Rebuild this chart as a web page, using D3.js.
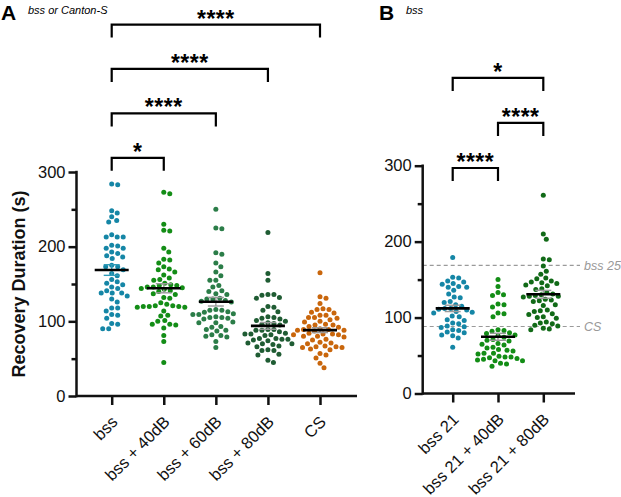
<!DOCTYPE html>
<html><head><meta charset="utf-8">
<script src="https://cdn.jsdelivr.net/npm/d3@7"></script>
<style>
body{margin:0;background:#fff}
svg{font-family:"Liberation Sans",Arial,sans-serif}
</style>
</head><body>
<svg id="c" width="621" height="497"></svg>
<script>
// ---------------- DATA ----------------
const catsA = ["bss", "bss + 40dB", "bss + 60dB", "bss + 80dB", "CS"];
const valsA_bss = [213,186,173,164,156,149,141,134,109,283,245,233,213,201,191,173,138,126,114,104,96,90,284,248,240,235,216,198,188,151,144,138,130,118,108,97,90,213,202,198,193,184,175,169,161,153,146,138,118];
const valsA_40 = [273,271,230,222,221,198,193,183,182,178,173,170,169,166,162,158,156,155,151,149,148,148,146,146,145,144,143,141,140,137,136,132,131,125,123,121,121,120,120,120,119,119,114,108,107,101,100,96,96,95,91,81,73,45];
const valsA_60 = [250,225,224,192,190,178,173,166,161,155,155,148,146,141,140,137,136,131,130,130,128,127,126,116,115,115,113,112,110,109,109,106,105,105,104,103,99,98,98,93,92,89,88,87,82,81,80,79,73,65];
const valsA_80 = [219,164,155,136,136,135,132,131,120,119,115,113,106,105,104,103,101,100,98,97,96,95,89,89,88,88,86,84,83,83,82,81,77,77,76,76,75,74,71,70,70,69,67,66,62,61,61,56,55,48,45];
const valsA_CS = [165,133,131,124,117,116,116,112,111,108,108,105,105,104,102,100,99,96,95,95,93,92,90,89,89,88,88,87,84,83,83,82,82,80,80,79,76,75,72,71,70,67,66,66,65,65,63,62,57,55,51,44,38];

const catsB = ["bss 21", "bss 21 + 40dB", "bss 21 + 80dB"];
const valsB_21 = [179,153,152,148,147,145,144,141,140,140,136,131,127,126,121,120,117,115,112,112,111,110,108,107,106,102,101,97,96,93,92,89,88,87,84,83,81,80,77,76,73,61];
const valsB_40 = [150,141,133,130,129,118,117,114,106,105,101,84,83,82,80,79,77,76,74,71,70,69,66,65,64,61,60,58,57,56,53,53,52,49,48,48,47,46,45,44,43,43,40,39,36];
const valsB_80 = [261,210,203,177,176,168,161,157,152,151,148,147,146,145,143,142,138,137,133,131,130,129,128,128,127,124,123,122,121,117,116,110,109,108,105,104,101,100,99,94,93,92,90,89,86,85,84];

const yTicks = [0, 100, 200, 300];
const yMinorTicks = [50, 150, 250];
// comparisons: [groupIndex1, groupIndex2, significance]
const compA = [[0,1,"*"],[0,2,"****"],[0,3,"****"],[0,4,"****"]];
const compB = [[0,1,"****"],[1,2,"****"],[0,2,"*"]];
// reference lines in panel B: means of panel A groups (index into A), with labels
const refB = [[0,"bss 25"],[4,"CS"]];
const yLabel = "Recovery Duration (s)";
const titleA = ["A", "bss or Canton-S"];
const titleB = ["B", "bss"];

// ---------------- STYLE ----------------
const colA = ["#1586a6","#138d16","#2b7d48","#1f5c33","#c9660c"];
const errA = ["#2f9bb8","#9a9a9a","#9a9a9a","#9a9a9a","#9a9a9a"];
const colB = ["#1586a6","#138d16","#116a17"];
const errB = ["#9a9a9a","#9a9a9a","#9a9a9a"];
const R = 2.5;

const svg = d3.select("#c");
const groupsA = [valsA_bss, valsA_40, valsA_60, valsA_80, valsA_CS];
const groupsB = [valsB_21, valsB_40, valsB_80];

function swarm(vals, y, r) {
  const pts = vals.map(v => ({v, py: y(v)})).sort((a,b) => a.py - b.py);
  const placed = [];
  const d = 2*r + 0.9;
  pts.forEach(p => {
    for (let k = 0; k < 400; k++) {
      const off = (k % 2 ? 1 : -1) * Math.ceil(k/2) * 0.5;
      let ok = true;
      for (const q of placed) {
        const dy = q.py - p.py;
        if (Math.abs(dy) >= d) continue;
        const dx = q.off - off;
        if (dx*dx + dy*dy < d*d) { ok = false; break; }
      }
      if (ok) { p.off = off; break; }
    }
    placed.push(p);
  });
  return placed;
}

function panel(cfg) {
  const g = svg.append("g");
  const y = d3.scaleLinear().domain([0,300]).range([cfg.y0, cfg.y300]);
  const x = d3.scalePoint().domain(cfg.cats).range(cfg.xr);
  const axW = 2.5;

  // reference lines
  if (cfg.refs) {
    cfg.refs.forEach(([v, lab]) => {
      g.append("line").attr("x1", cfg.axX).attr("x2", cfg.axEnd + 5)
        .attr("y1", y(v)).attr("y2", y(v))
        .attr("stroke", "#9a9a9a").attr("stroke-width", 1.1).attr("stroke-dasharray", "4,3");
      g.append("text").attr("x", cfg.axEnd + 9).attr("y", y(v)).attr("dy", "0.35em")
        .attr("font-size", 12.5).attr("font-style", "italic").attr("fill", "#999").text(lab);
    });
  }

  // dots
  cfg.groups.forEach((vals, i) => {
    const cx = x(cfg.cats[i]);
    const pts = swarm(vals, y, R);
    g.append("g").selectAll("circle").data(pts).join("circle")
      .attr("cx", p => cx + p.off).attr("cy", p => p.py).attr("r", R)
      .attr("fill", cfg.cols[i]);
    const m = d3.mean(vals);
    const sem = d3.deviation(vals) / Math.sqrt(vals.length);
    const eg = g.append("g").attr("stroke", cfg.errs[i]).attr("stroke-width", 1.4);
    eg.append("line").attr("x1", cx).attr("x2", cx).attr("y1", y(m - sem)).attr("y2", y(m + sem));
    [m - sem, m + sem].forEach(v => eg.append("line").attr("x1", cx - 8).attr("x2", cx + 8).attr("y1", y(v)).attr("y2", y(v)));
    g.append("line").attr("x1", cx - 17).attr("x2", cx + 17).attr("y1", y(m)).attr("y2", y(m))
      .attr("stroke", "#000").attr("stroke-width", 2.6);
  });

  // y axis
  const ya = g.append("g").attr("transform", `translate(${cfg.axX},0)`)
    .call(d3.axisLeft(y).tickValues(yTicks).tickSize(8).tickPadding(3).tickSizeOuter(0));
  ya.select(".domain").remove();
  ya.selectAll("line").attr("stroke-width", axW).attr("stroke", "#111");
  ya.selectAll("text").attr("font-size", 16.5).attr("fill", "#111").attr("font-family", "Liberation Sans, Arial, sans-serif");
  const ym = g.append("g").attr("transform", `translate(${cfg.axX},0)`)
    .call(d3.axisLeft(y).tickValues(yMinorTicks).tickSize(5).tickFormat(""));
  ym.select(".domain").remove();
  ym.selectAll("line").attr("stroke-width", axW).attr("stroke", "#111");
  g.append("line").attr("x1", cfg.axX).attr("x2", cfg.axX).attr("y1", y(300) - 1.2).attr("y2", cfg.y0 + 1.2)
    .attr("stroke", "#111").attr("stroke-width", axW);

  // x axis
  const xa = g.append("g").attr("transform", `translate(0,${cfg.y0})`)
    .call(d3.axisBottom(x).tickSize(9).tickFormat(""));
  xa.select(".domain").remove();
  xa.selectAll("line").attr("stroke-width", axW).attr("stroke", "#111");
  g.append("line").attr("x1", cfg.axX).attr("x2", cfg.axEnd).attr("y1", cfg.y0).attr("y2", cfg.y0)
    .attr("stroke", "#111").attr("stroke-width", axW);
  g.append("g").selectAll("text").data(cfg.cats).join("text")
    .attr("transform", d => `translate(${x(d) + 7},${cfg.y0 + 27}) rotate(-45)`)
    .attr("text-anchor", "end").attr("font-size", 16.5).attr("fill", "#111").text(d => d);

  // brackets
  cfg.comps.forEach(([a, b, lab], k) => {
    const by = y(cfg.brBase + k * cfg.brStep);
    const x1 = x(cfg.cats[a]), x2 = x(cfg.cats[b]);
    g.append("path").attr("d", `M${x1},${by + 13}V${by}H${x2}V${by + 13}`)
      .attr("fill", "none").attr("stroke", "#000").attr("stroke-width", 2.2);
    g.append("text").attr("x", (x1 + x2) / 2).attr("y", by + 2)
      .attr("text-anchor", "middle").attr("font-size", 23).attr("font-weight", "bold")
      .attr("letter-spacing", "0.5px").text(lab);
  });

  // titles
  g.append("text").attr("x", cfg.tX).attr("y", cfg.tY).attr("font-size", 21).attr("font-weight", "bold").text(cfg.title[0]);
  g.append("text").attr("x", cfg.tX + 27).attr("y", cfg.tY - 6).attr("font-size", 11).attr("font-style", "italic").text(cfg.title[1]);
  return y;
}

const meansA = groupsA.map(v => d3.mean(v));

panel({cats: catsA, groups: groupsA, cols: colA, errs: errA,
  y0: 396, y300: 172, xr: [111.7, 320], axX: 76.5, axEnd: 357,
  comps: compA, brBase: 319, brStep: 59.5, title: titleA, tX: 1, tY: 20});

panel({cats: catsB, groups: groupsB, cols: colB, errs: errB,
  y0: 393.5, y300: 165.7, xr: [452.7, 543.3], axX: 422.7, axEnd: 575,
  comps: compB, brBase: 297, brStep: 59.3, title: titleB, tX: 379, tY: 19.5,
  refs: refB.map(([i, lab]) => [meansA[i], lab])});

svg.append("text").attr("transform", "translate(25,284) rotate(-90)")
  .attr("text-anchor", "middle").attr("font-size", 18).attr("font-weight", "bold").attr("fill", "#111")
  .text(yLabel);
</script>
</body></html>
